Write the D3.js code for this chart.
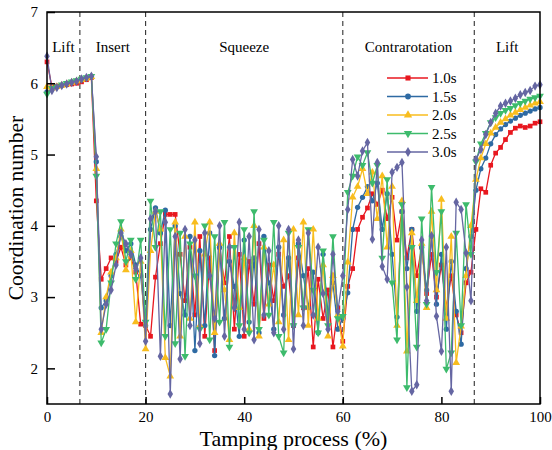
<!DOCTYPE html>
<html>
<head>
<meta charset="utf-8">
<script src="https://cdn.jsdelivr.net/npm/d3@7"></script>
<style>
  body { margin: 0; background: #fff; }
  text { font-family: "Liberation Serif", "Times New Roman", serif; }
</style>
</head>
<body>
<div id="chart"></div>
<script>
// data (x = tamping process %, 0..100 step 1)
const seriesNames = ["1.0s", "1.5s", "2.0s", "2.5s", "3.0s"];
const phaseNames = ["Lift", "Insert", "Squeeze", "Contrarotation", "Lift"];
const phaseBounds = [0, 6.67, 20, 60, 86.67, 100];
const xTicks = [0, 20, 40, 60, 80, 100];
const yTicks = [2, 3, 4, 5, 6, 7];

const red = [6.30,5.95,5.96,5.97,5.98,5.99,6.00,6.02,6.05,6.08,
  4.35,3.25,3.40,3.55,3.50,3.70,3.45,3.55,3.35,2.62,
  2.60,2.45,3.28,3.75,4.16,4.16,4.16,3.60,2.95,3.70,
  2.75,3.85,2.45,3.55,2.25,3.70,3.20,3.85,2.55,3.60,
  2.45,3.50,2.90,3.75,2.70,3.45,2.95,3.60,3.15,3.30,
  2.60,3.55,2.85,3.40,2.30,3.25,2.70,3.10,2.30,2.85,
  2.38,3.15,3.40,3.95,4.12,4.25,4.45,4.30,4.50,4.10,
  4.40,3.80,4.20,3.55,3.95,3.30,3.70,3.05,3.60,3.00,
  3.45,2.85,3.30,2.75,2.50,3.20,3.35,3.95,4.52,4.47,
  4.85,5.02,5.10,5.21,5.31,5.37,5.40,5.38,5.40,5.44,5.46];

const blue = [5.88,5.92,5.95,5.97,5.99,6.01,6.03,6.05,6.07,6.10,
  4.90,2.85,2.95,3.30,3.60,3.85,3.65,3.75,3.45,3.30,
  2.60,3.95,4.25,3.90,4.22,2.60,4.00,3.05,2.75,3.85,
  2.25,3.65,2.60,3.90,2.18,3.70,2.70,3.50,3.15,2.45,
  3.80,2.65,3.55,2.50,3.85,3.20,2.55,3.70,2.75,3.55,
  2.60,3.75,3.30,2.85,3.35,2.50,3.60,2.75,3.20,2.55,
  2.70,3.06,3.95,4.26,4.40,4.55,4.35,4.60,3.95,4.45,
  3.60,2.72,4.20,3.40,3.95,2.80,3.70,3.10,3.85,2.90,
  3.60,2.55,3.50,2.80,2.34,3.40,3.85,4.50,4.80,4.95,
  5.15,5.28,5.36,5.42,5.47,5.51,5.55,5.58,5.61,5.64,5.66];

const yellow = [5.95,5.93,5.95,5.97,5.99,6.01,6.03,6.05,6.07,6.09,
  4.80,2.50,3.00,3.35,3.55,3.95,3.38,3.65,2.65,3.50,
  2.27,3.65,4.20,3.95,2.15,1.89,4.05,2.45,3.85,2.70,
  4.05,2.60,3.60,4.05,2.50,3.75,3.10,2.40,3.90,2.85,
  3.55,2.55,4.00,2.45,3.70,2.90,3.45,2.65,3.80,2.40,
  3.95,2.75,4.05,2.60,3.95,2.70,3.45,2.45,3.30,2.75,
  2.31,3.49,4.40,4.55,4.80,4.45,4.75,4.10,4.70,3.70,
  4.55,2.60,4.35,2.24,3.90,2.95,3.75,2.85,4.20,3.10,
  4.37,2.70,3.85,2.08,2.59,3.30,4.00,4.65,4.95,5.15,
  5.30,5.38,5.45,5.50,5.55,5.59,5.63,5.66,5.69,5.72,5.74];

const green = [5.85,5.93,5.95,5.98,6.00,6.02,6.04,6.06,6.08,6.10,
  4.70,2.36,2.55,3.20,3.75,4.06,3.50,3.80,3.25,3.80,
  2.65,4.35,3.70,4.20,2.45,3.95,2.35,3.90,2.17,3.75,
  3.30,2.55,4.00,2.40,3.85,2.65,4.05,2.30,3.70,2.60,
  3.95,2.50,4.20,2.55,3.80,2.75,4.05,2.45,2.22,3.90,
  2.60,3.70,2.85,3.95,3.10,2.50,3.65,2.60,3.85,2.70,
  2.73,4.47,4.70,4.97,4.85,5.03,4.60,4.85,3.55,4.65,
  3.20,2.40,4.30,1.73,3.70,2.30,4.10,2.90,4.54,3.35,
  4.20,1.99,2.22,3.90,2.60,4.30,3.60,4.90,5.15,5.30,
  5.45,5.52,5.58,5.62,5.65,5.69,5.72,5.75,5.78,5.80,5.82];

const purple = [6.38,5.90,5.94,5.97,5.99,6.01,6.03,6.06,6.08,6.10,
  4.97,2.55,2.90,3.10,3.45,3.90,3.75,3.60,3.40,3.55,
  2.38,4.10,4.20,2.17,4.05,1.64,3.85,2.13,3.95,2.60,
  3.80,2.35,3.90,3.30,2.70,4.00,2.45,3.70,2.85,4.05,
  2.55,3.85,2.40,3.95,2.75,3.65,2.50,4.00,2.55,3.95,
  2.27,3.80,2.60,3.90,2.75,3.70,3.05,2.55,3.60,2.80,
  3.30,4.23,4.93,4.70,5.05,5.17,3.81,4.89,3.43,3.25,
  4.75,4.82,4.89,3.14,1.68,1.77,3.80,2.95,3.86,2.73,
  2.24,3.70,1.68,4.33,4.23,3.62,2.95,4.93,5.07,5.28,
  5.45,5.58,5.68,5.72,5.75,5.79,5.84,5.87,5.90,5.96,5.98];

const colors = ["#e8171f", "#2e6aa3", "#f8bd1e", "#3dbb6c", "#6566a2"];
const symbols = [d3.symbolSquare, d3.symbolCircle, d3.symbolTriangle, "down", d3.symbolDiamond];
const allSeries = [red, blue, yellow, green, purple];

const width = 552, height = 450;
const margin = {top: 12, right: 12, bottom: 46, left: 47};

const svg = d3.select("#chart").append("svg")
  .attr("width", width)
  .attr("height", height);

const x = d3.scaleLinear().domain([0, 100]).range([margin.left, width - margin.right]);
const y = d3.scaleLinear().domain([1.5, 7]).range([height - margin.bottom, margin.top]);

// phase separators
svg.selectAll(".phase")
  .data(phaseBounds.slice(1, -1))
  .enter().append("line")
  .attr("x1", d => x(d)).attr("x2", d => x(d))
  .attr("y1", y(7)).attr("y2", y(1.5))
  .attr("stroke", "#333")
  .attr("stroke-width", 1.1)
  .attr("stroke-dasharray", "5,4");

svg.selectAll(".phaseLabel")
  .data(phaseNames)
  .enter().append("text")
  .attr("x", (d, i) => x((phaseBounds[i] + phaseBounds[i + 1]) / 2))
  .attr("y", 52)
  .attr("text-anchor", "middle")
  .attr("font-size", 15)
  .text(d => d);

function markerPath(sym, size) {
  if (sym === "down") {
    return d3.symbol().type(d3.symbolTriangle).size(size)();
  }
  return d3.symbol().type(sym).size(size)();
}
const markerSize = [22, 22, 26, 26, 26];

allSeries.forEach(function(vals, s) {
  const pts = vals.map((v, i) => [i, v]);
  const line = d3.line().x(d => x(d[0])).y(d => y(d[1]));
  svg.append("path")
    .datum(pts)
    .attr("fill", "none")
    .attr("stroke", colors[s])
    .attr("stroke-width", 1.3)
    .attr("d", line);

  svg.selectAll(".m" + s)
    .data(pts)
    .enter().append("path")
    .attr("d", markerPath(symbols[s], markerSize[s]))
    .attr("transform", d => "translate(" + x(d[0]) + "," + y(d[1]) + ")" + (symbols[s] === "down" ? " rotate(180)" : ""))
    .attr("fill", colors[s]);
});

// frame
svg.append("rect")
  .attr("x", margin.left).attr("y", margin.top)
  .attr("width", width - margin.left - margin.right)
  .attr("height", height - margin.top - margin.bottom)
  .attr("fill", "none")
  .attr("stroke", "#000")
  .attr("stroke-width", 1.5);

// axes with inward ticks
const xAxis = d3.axisBottom(x).tickValues(xTicks).tickSizeInner(-7).tickSizeOuter(0).tickPadding(7);
const gx = svg.append("g")
  .attr("transform", "translate(0," + (height - margin.bottom) + ")")
  .call(xAxis);
gx.select(".domain").remove();
gx.selectAll("line").attr("stroke-width", 1.5);
gx.selectAll("text").attr("font-size", 15).attr("font-family", "Liberation Serif");

const yAxis = d3.axisLeft(y).tickValues(yTicks).tickFormat(d3.format("d"))
  .tickSizeInner(-8).tickSizeOuter(0).tickPadding(9);
const gy = svg.append("g")
  .attr("transform", "translate(" + margin.left + ",0)")
  .call(yAxis);
gy.select(".domain").remove();
gy.selectAll("line").attr("stroke-width", 1.5);
gy.selectAll("text").attr("font-size", 15).attr("font-family", "Liberation Serif");

svg.append("text")
  .attr("x", x(50))
  .attr("y", 446)
  .attr("text-anchor", "middle")
  .attr("font-size", 22)
  .text("Tamping process (%)");

svg.append("text")
  .attr("transform", "translate(23," + y(4.25) + ") rotate(-90)")
  .attr("text-anchor", "middle")
  .attr("font-size", 21.5)
  .text("Coordination number");

// legend
const legend = svg.append("g");
seriesNames.forEach(function(name, i) {
  const ly = 78 + i * 18.5;
  legend.append("line")
    .attr("x1", 387).attr("x2", 428)
    .attr("y1", ly).attr("y2", ly)
    .attr("stroke", colors[i])
    .attr("stroke-width", 1.5);
  legend.append("path")
    .attr("d", markerPath(symbols[i], markerSize[i] + 4))
    .attr("transform", "translate(408," + ly + ")" + (symbols[i] === "down" ? " rotate(180)" : ""))
    .attr("fill", colors[i]);
  legend.append("text")
    .attr("x", 432)
    .attr("y", ly + 5)
    .attr("font-size", 15)
    .text(name);
});
</script>
</body>
</html>
